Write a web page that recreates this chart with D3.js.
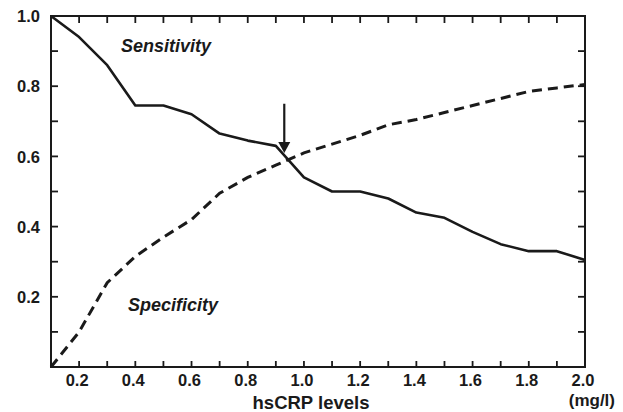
<!DOCTYPE html>
<html>
<head>
<meta charset="utf-8">
<script src="https://cdn.jsdelivr.net/npm/d3@7"></script>
<style>
  body { margin: 0; background: #fff; }
  #chart { width: 623px; height: 412px; }
  text { font-family: "Liberation Sans", Arial, Helvetica, sans-serif; fill: #1a1a1a; }
</style>
</head>
<body>
<div id="chart"></div>
<script>
// hsCRP cut-off levels (mg/l)
let hsCRP = [0.1, 0.2, 0.3, 0.4, 0.5, 0.6, 0.7, 0.8, 0.9, 1.0,
             1.1, 1.2, 1.3, 1.4, 1.5, 1.6, 1.7, 1.8, 1.9, 2.0];
let sensitivity = [1.0, 0.94, 0.86, 0.745, 0.745, 0.72, 0.665, 0.645, 0.63, 0.54,
                   0.50, 0.50, 0.48, 0.44, 0.425, 0.385, 0.35, 0.33, 0.33, 0.305];
let specificity = [0.0, 0.10, 0.24, 0.315, 0.37, 0.42, 0.495, 0.54, 0.575, 0.61,
                   0.635, 0.66, 0.69, 0.705, 0.725, 0.745, 0.765, 0.785, 0.795, 0.805];
let xTickLabels = ["0.2", "0.4", "0.6", "0.8", "1.0", "1.2", "1.4", "1.6", "1.8", "2.0"];
let yTickLabels = ["0.2", "0.4", "0.6", "0.8", "1.0"];
let xTicks = [0.2, 0.3, 0.4, 0.5, 0.6, 0.7, 0.8, 0.9, 1.0,
              1.1, 1.2, 1.3, 1.4, 1.5, 1.6, 1.7, 1.8, 1.9];
let yTicks = [0.1, 0.2, 0.3, 0.4, 0.5, 0.6, 0.7, 0.8, 0.9];
let cutoff = {x: 0.93, from: 0.75, to: 0.61};

let width = 623, height = 412;
let margin = {top: 16, right: 38, bottom: 45, left: 51};
let tickLen = 7;
let ink = "#1a1a1a";

let svg = d3.select("#chart")
  .append("svg")
  .attr("width", width)
  .attr("height", height);

let x = d3.scaleLinear().domain([0.1, 2.0]).range([margin.left, width - margin.right]);
let y = d3.scaleLinear().domain([0, 1.0]).range([height - margin.bottom, margin.top]);

// frame
svg.append("rect")
  .attr("x", x(0.1))
  .attr("y", y(1))
  .attr("width", x(2.0) - x(0.1))
  .attr("height", y(0) - y(1))
  .attr("fill", "none")
  .attr("stroke", ink)
  .attr("stroke-width", 2);

// inward ticks on all four sides
function tickLines(cls, data, pos) {
  svg.selectAll("line." + cls)
    .data(data)
    .join("line")
    .attr("class", cls)
    .attr("x1", d => pos(d)[0])
    .attr("y1", d => pos(d)[1])
    .attr("x2", d => pos(d)[2])
    .attr("y2", d => pos(d)[3])
    .style("stroke", ink)
    .style("stroke-width", "1.8px");
}
tickLines("tb", xTicks, d => [x(d), y(0), x(d), y(0) - tickLen + 1]);
tickLines("tt", xTicks, d => [x(d), y(1), x(d), y(1) + tickLen]);
tickLines("tl", yTicks, d => [x(0.1), y(d), x(0.1) + tickLen, y(d)]);
tickLines("tr", yTicks, d => [x(2.0), y(d), x(2.0) - tickLen, y(d)]);

// tick labels
svg.selectAll(".xlab")
  .data(xTickLabels)
  .enter().append("text")
  .attr("class", "xlab")
  .attr("x", d => x(+d) - 2)
  .attr("y", y(0) + 19)
  .attr("text-anchor", "middle")
  .style("font-size", "16.5px")
  .style("font-weight", "bold")
  .text(d => d);

svg.selectAll(".ylab")
  .data(yTickLabels)
  .enter().append("text")
  .attr("class", "ylab")
  .attr("x", x(0.1) - 11)
  .attr("y", d => y(+d))
  .attr("dy", "0.38em")
  .attr("text-anchor", "end")
  .style("font-size", "16.5px")
  .style("font-weight", "bold")
  .text(d => d);

svg.append("text")
  .attr("x", 311)
  .attr("y", 409)
  .attr("text-anchor", "middle")
  .style("font-size", "18.5px")
  .style("font-weight", "bold")
  .text("hsCRP levels");

svg.append("text")
  .attr("x", 615)
  .attr("y", 406)
  .attr("text-anchor", "end")
  .style("font-size", "17px")
  .style("font-weight", "bold")
  .text("(mg/l)");

// curves
let line = d3.line()
  .x((d, i) => x(hsCRP[i]))
  .y(d => y(d));

svg.append("path")
  .datum(sensitivity)
  .attr("d", line)
  .attr("fill", "none")
  .attr("stroke", ink)
  .attr("stroke-width", 2.6)
  .attr("stroke-linejoin", "round");

svg.append("path")
  .datum(specificity)
  .attr("d", line)
  .attr("fill", "none")
  .attr("stroke", ink)
  .attr("stroke-width", 3)
  .attr("stroke-dasharray", "10,6");

// arrow at the cut-off
let ax = x(cutoff.x), ayTop = y(cutoff.from), ayTip = y(cutoff.to);
svg.append("line")
  .attr("x1", ax).attr("x2", ax)
  .attr("y1", ayTop).attr("y2", ayTip - 8)
  .attr("stroke", ink)
  .attr("stroke-width", 2.2);
svg.append("path")
  .attr("d", d3.line()([[ax - 6, ayTip - 11], [ax + 6, ayTip - 11], [ax, ayTip]]) + "Z")
  .attr("fill", ink);

// series labels
svg.append("text")
  .attr("x", 121)
  .attr("y", 52)
  .style("font-size", "18px")
  .style("font-weight", "bold")
  .style("font-style", "italic")
  .text("Sensitivity");

svg.append("text")
  .attr("x", 128)
  .attr("y", 311)
  .style("font-size", "18px")
  .style("font-weight", "bold")
  .style("font-style", "italic")
  .text("Specificity");
</script>
</body>
</html>
